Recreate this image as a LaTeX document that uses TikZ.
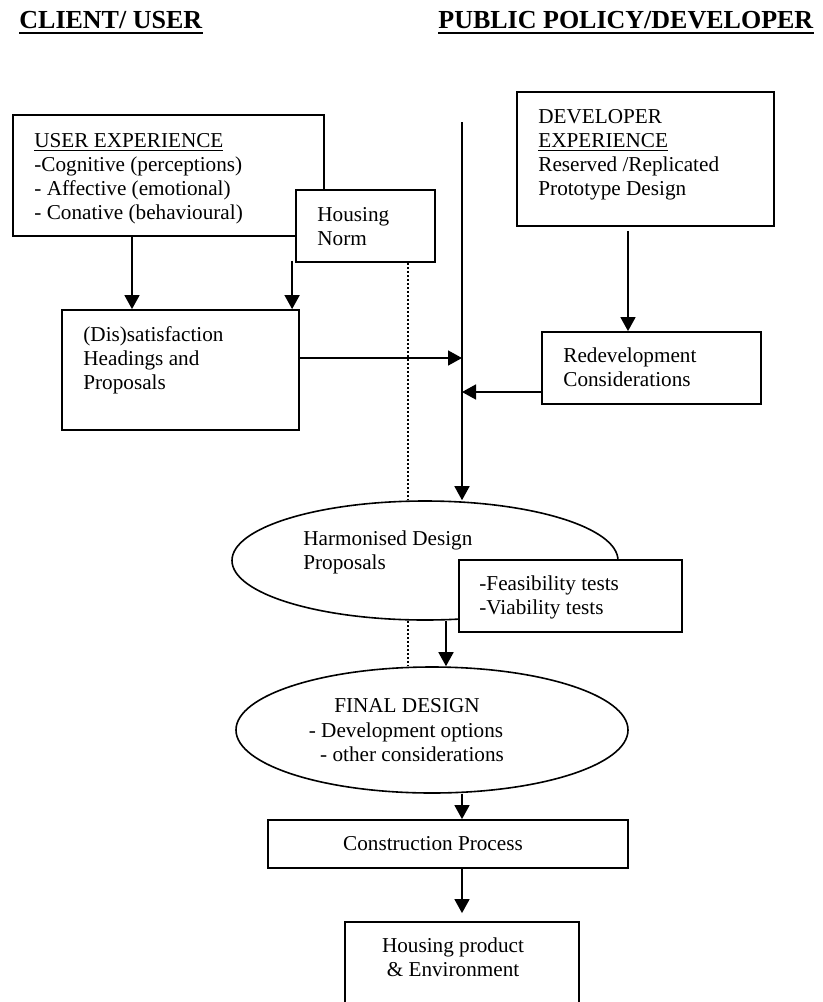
\documentclass[tikz,border=0pt]{standalone}
\usepackage{fontspec}
\setmainfont{Liberation Serif}
\usetikzlibrary{shapes.geometric,fit,arrows.meta}
\begin{document}
\begin{tikzpicture}[x=0.5pt,y=-0.5pt,
  box/.style={draw,line width=0.9pt,inner sep=0pt,fill=white},
  oval/.style={draw,ellipse,line width=0.8pt,inner sep=0pt},
  txt/.style={inner sep=0pt,anchor=base west,align=left,font=\fontsize{10.6}{12}\selectfont},
  ctxt/.style={inner sep=0pt,anchor=base,font=\fontsize{10.6}{12}\selectfont},
  head/.style={inner sep=0pt,anchor=base west,font=\fontsize{13}{15}\selectfont\bfseries},
  arr/.style={line width=0.8pt,-{Triangle[length=7pt,width=7.5pt]}},
  dotline/.style={line width=1pt,dash pattern=on 1pt off 1pt}]
\useasboundingbox (0,0) rectangle (823,1002);

% headings
\node[head] (h1) at (19,28) {CLIENT/ USER};
\node[head] (h2) at (438,28) {PUBLIC POLICY/DEVELOPER};
\draw[line width=1pt] ([yshift=-2.5pt]h1.base west) -- ([yshift=-2.5pt]h1.base east);
\draw[line width=1pt] ([yshift=-2.5pt]h2.base west) -- ([yshift=-2.5pt]h2.base east);

% boxes
\node[box,fit={(13,115)(324,236)}] (ue) {};
\node[box,fit={(296,190)(435,262)}] (hn) {};
\node[box,fit={(62,310)(299,430)}] (dis) {};
\node[box,fit={(517,92)(774,226)}] (de) {};
\node[box,fit={(542,332)(761,404)}] (rd) {};
\node[oval,minimum width=193pt,minimum height=59.5pt] (hd) at (425,560.5) {};
\node[box,fit={(459,560)(682,632)}] (ft) {};
\node[oval,minimum width=196pt,minimum height=63pt] (fd) at (432,730) {};
\node[box,fit={(268,820)(628,868)}] (cp) {};
\begin{scope}
\clip (0,0) rectangle (823,1002);
\node[box,fit={(345,922)(579,1012)}] (hp) {};
\end{scope}

% texts (base anchor = baseline of the last line)
\node[txt] (tue) at (34,219) {\underline{USER EXPERIENCE}\\-Cognitive (perceptions)\\- Affective (emotional)\\- Conative (behavioural)};
\node[txt] (thn) at (317,245) {Housing\\Norm};
\node[txt] (tdis) at (83,389) {(Dis)satisfaction\\Headings and\\Proposals};
\node[txt] (tde) at (538,195) {DEVELOPER\\\underline{EXPERIENCE}\\Reserved /Replicated\\Prototype Design};
\node[txt] (trd) at (563,386) {Redevelopment\\Considerations};
\node[txt] (thd) at (303,569) {Harmonised Design\\Proposals};
\node[txt] (tft) at (479,614) {-Feasibility tests\\-Viability tests};
\node[ctxt] (tfd1) at (407,712) {FINAL DESIGN};
\node[ctxt] (tfd2) at (406,737) {- Development options};
\node[ctxt] (tfd3) at (412,761) {- other considerations};
\node[ctxt] (tcp) at (433,850) {Construction Process};
\node[ctxt] (thp1) at (453,952) {Housing product};
\node[ctxt] (thp2) at (453,976) {\& Environment};

% helper coordinates
\coordinate (vt) at (462,122);
\coordinate (dx) at (408,0);
\coordinate (ax) at (446,0);

% connectors
\draw[arr] (vt) -- (vt |- hd.north);
\draw[arr] ([yshift=6pt]dis.east) -- ([yshift=6pt]dis.east -| vt);
\draw[arr] ([yshift=-12pt]rd.west) -- ([yshift=-12pt]rd.west -| vt);
\draw[arr] ([xshift=-8.75pt,yshift=-2pt]de.south) -- ([xshift=-8.75pt]de.south |- rd.north);
\draw[arr] ([xshift=-18.25pt]ue.south) -- ([xshift=-18.25pt]ue.south |- dis.north);
\draw[arr] ([xshift=-1.5pt,yshift=1pt]hn.south west) -- ([xshift=-1.5pt]hn.south west |- dis.north);
\draw[dotline] (hn.south -| dx) -- (hd.north -| dx);
\draw[dotline] (hd.south -| dx) -- (fd.north -| dx);
\draw[arr] (hd.south -| ax) -- (fd.north -| ax);
\draw[arr] (fd.south -| vt) -- (cp.north -| vt);
\draw[arr] (cp.south -| vt) -- ([yshift=4pt]hp.north -| vt);
\end{tikzpicture}
\end{document}
